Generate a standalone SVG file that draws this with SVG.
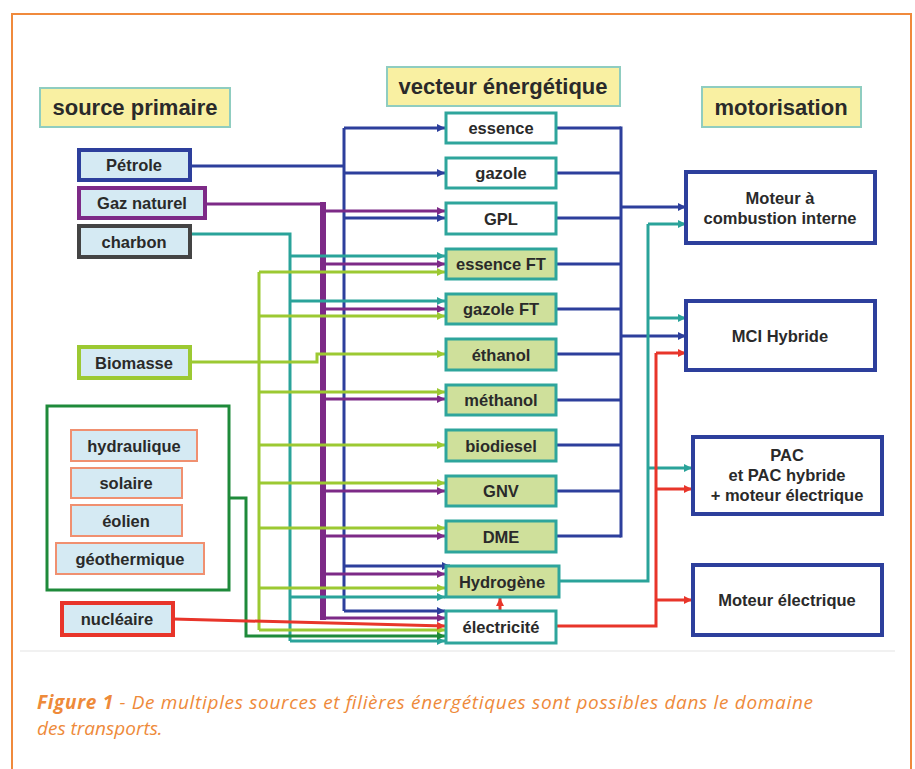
<svg xmlns="http://www.w3.org/2000/svg" width="915" height="769" viewBox="0 0 915 769">
<style>
text{font-family:"Liberation Sans",Arial,sans-serif;font-weight:bold;fill:#2a2a2a;text-anchor:middle}
.hdr rect{fill:#f9f0a2;stroke:#8fcdc0;stroke-width:2}
.hdr text{font-size:22px}
.src rect{fill:#d5eaf3;stroke-width:4}
.src text,.ren text,.vec text,.mot text{font-size:16.5px}
.ren rect{fill:#d5eaf3;stroke:#f09070;stroke-width:2}
.vec rect{stroke:#2ea59c;stroke-width:3}
.w{fill:#fff}
.g{fill:#cfe09b}
.mot rect{fill:#fff;stroke:#2d3f9c;stroke-width:4}
.c path{fill:none;stroke-width:3}
.bl{stroke:#2d3f9c}
.pu{stroke:#7d2a87}
.te{stroke:#2aa39a}
.lg{stroke:#9cc932}
.dg{stroke:#1e8a3a}
.rd{stroke:#e8352a}
.caption{font-family:"Open Sans","Liberation Sans",sans-serif;font-style:italic;font-weight:normal;font-size:19px;fill:#ee8a3a;text-anchor:start}
</style>
<defs>
<marker id="ab" viewBox="0 0 10 10" refX="10" refY="5" markerWidth="9" markerHeight="8" markerUnits="userSpaceOnUse" orient="auto"><path d="M0,0L10,5L0,10z" fill="#2d3f9c"/></marker>
<marker id="ap" viewBox="0 0 10 10" refX="10" refY="5" markerWidth="9" markerHeight="8" markerUnits="userSpaceOnUse" orient="auto"><path d="M0,0L10,5L0,10z" fill="#7d2a87"/></marker>
<marker id="at" viewBox="0 0 10 10" refX="10" refY="5" markerWidth="9" markerHeight="8" markerUnits="userSpaceOnUse" orient="auto"><path d="M0,0L10,5L0,10z" fill="#2aa39a"/></marker>
<marker id="al" viewBox="0 0 10 10" refX="10" refY="5" markerWidth="9" markerHeight="8" markerUnits="userSpaceOnUse" orient="auto"><path d="M0,0L10,5L0,10z" fill="#9cc932"/></marker>
<marker id="ad" viewBox="0 0 10 10" refX="10" refY="5" markerWidth="9" markerHeight="8" markerUnits="userSpaceOnUse" orient="auto"><path d="M0,0L10,5L0,10z" fill="#1e8a3a"/></marker>
<marker id="ar" viewBox="0 0 10 10" refX="10" refY="5" markerWidth="9" markerHeight="8" markerUnits="userSpaceOnUse" orient="auto"><path d="M0,0L10,5L0,10z" fill="#e8352a"/></marker>
</defs>
<rect width="915" height="769" fill="#fff"/>
<path d="M12,769V14H911V769" fill="none" stroke="#f08a3c" stroke-width="2"/>
<line x1="20" y1="651" x2="895" y2="651" stroke="#ececec" stroke-width="1.5"/>

<g class="c" id="connectors">
<path class="bl" d="M190,166H344"/>
<path class="bl" d="M344,128V611"/>
<path class="bl" d="M344,128H445" marker-end="url(#ab)"/>
<path class="bl" d="M344,173H445" marker-end="url(#ab)"/>
<path class="bl" d="M344,218H445" marker-end="url(#ab)"/>
<path class="bl" d="M344,566H450" marker-end="url(#ab)"/>
<path class="bl" d="M344,611H445" marker-end="url(#ab)"/>
<path class="pu" d="M205,204H323"/>
<path class="pu" d="M323,202V620" style="stroke-width:6"/>
<path class="pu" d="M323,211H445" marker-end="url(#ap)"/>
<path class="pu" d="M323,264H445" marker-end="url(#ap)"/>
<path class="pu" d="M323,309H445" marker-end="url(#ap)"/>
<path class="pu" d="M323,399H445" marker-end="url(#ap)"/>
<path class="pu" d="M323,491H445" marker-end="url(#ap)"/>
<path class="pu" d="M323,536H445" marker-end="url(#ap)"/>
<path class="pu" d="M323,574H445" marker-end="url(#ap)"/>
<path class="pu" d="M323,618H445" marker-end="url(#ap)"/>
<path class="te" d="M190,234H290V641"/>
<path class="te" d="M290,256H445" marker-end="url(#at)"/>
<path class="te" d="M290,301H445" marker-end="url(#at)"/>
<path class="te" d="M290,597H445" marker-end="url(#at)"/>
<path class="te" d="M290,641H445" marker-end="url(#at)"/>
<path class="lg" d="M259,272V630"/>
<path class="lg" d="M259,272H445" marker-end="url(#al)"/>
<path class="lg" d="M259,316H445" marker-end="url(#al)"/>
<path class="lg" d="M190,362H317V354H445" marker-end="url(#al)"/>
<path class="lg" d="M259,392H445" marker-end="url(#al)"/>
<path class="lg" d="M259,445H445" marker-end="url(#al)"/>
<path class="lg" d="M259,483H445" marker-end="url(#al)"/>
<path class="lg" d="M259,528H445" marker-end="url(#al)"/>
<path class="lg" d="M259,588H445" marker-end="url(#al)"/>
<path class="lg" d="M259,630H445" marker-end="url(#al)"/>
<path class="dg" d="M229,498H246V636H445" marker-end="url(#ad)"/>
<path class="rd" d="M173,619L445,626" marker-end="url(#ar)"/>
<path class="rd" d="M500,611V598" marker-end="url(#ar)"/>
<path class="bl" d="M556,128H621M556,173H621M556,218H621M556,264H621M556,309H621M556,354H621M556,400H621M556,445H621M556,491H621M556,536H621"/>
<path class="bl" d="M621,126.5V537.5"/>
<path class="bl" d="M621,207H686" marker-end="url(#ab)"/>
<path class="bl" d="M621,336H686" marker-end="url(#ab)"/>
<path class="te" d="M559,581H648V224"/>
<path class="te" d="M648,224H686" marker-end="url(#at)"/>
<path class="te" d="M648,318H686" marker-end="url(#at)"/>
<path class="te" d="M648,468H692" marker-end="url(#at)"/>
<path class="rd" d="M556,626H656V353"/>
<path class="rd" d="M656,353H686" marker-end="url(#ar)"/>
<path class="rd" d="M656,489H692" marker-end="url(#ar)"/>
<path class="rd" d="M656,600H692" marker-end="url(#ar)"/>
</g>

<g id="h-source" class="hdr"><rect x="40" y="88" width="190" height="39"/><text x="135" y="115">source primaire</text></g>
<g id="h-vecteur" class="hdr"><rect x="387" y="67" width="233" height="39"/><text x="503" y="94">vecteur énergétique</text></g>
<g id="h-motor" class="hdr"><rect x="702" y="87" width="159" height="40"/><text x="781" y="115">motorisation</text></g>

<g id="petrole" class="src"><rect x="79" y="150" width="111" height="30" stroke="#2d3f9c"/><text x="134" y="171">Pétrole</text></g>
<g id="gaz" class="src"><rect x="79" y="188" width="126" height="30" stroke="#7d2a87"/><text x="142" y="209">Gaz naturel</text></g>
<g id="charbon" class="src"><rect x="79" y="226" width="111" height="31" stroke="#444"/><text x="134" y="248">charbon</text></g>
<g id="biomasse" class="src"><rect x="79" y="347" width="111" height="31" stroke="#9cc932"/><text x="134" y="369">Biomasse</text></g>
<g id="renouvelables">
<rect x="47" y="406" width="182" height="184" fill="none" stroke="#1e8a3a" stroke-width="3"/>
<g id="hydraulique" class="ren"><rect x="71" y="430" width="126" height="31"/><text x="134" y="452">hydraulique</text></g>
<g id="solaire" class="ren"><rect x="71" y="468" width="111" height="30"/><text x="126" y="489">solaire</text></g>
<g id="eolien" class="ren"><rect x="71" y="505" width="111" height="31"/><text x="126" y="527">éolien</text></g>
<g id="geothermique" class="ren"><rect x="56" y="543" width="148" height="31"/><text x="130" y="565">géothermique</text></g>
</g>
<g id="nucleaire" class="src"><rect x="62" y="603" width="111" height="32" stroke="#e8352a"/><text x="117" y="625">nucléaire</text></g>

<g id="essence" class="vec"><rect class="w" x="446" y="113" width="110" height="30"/><text x="501" y="134">essence</text></g>
<g id="gazole" class="vec"><rect class="w" x="446" y="158" width="110" height="30"/><text x="501" y="179">gazole</text></g>
<g id="gpl" class="vec"><rect class="w" x="446" y="203" width="110" height="31"/><text x="501" y="225">GPL</text></g>
<g id="essenceft" class="vec"><rect class="g" x="446" y="249" width="110" height="30"/><text x="501" y="270">essence FT</text></g>
<g id="gazoleft" class="vec"><rect class="g" x="446" y="294" width="110" height="30"/><text x="501" y="315">gazole FT</text></g>
<g id="ethanol" class="vec"><rect class="g" x="446" y="339" width="110" height="31"/><text x="501" y="361">éthanol</text></g>
<g id="methanol" class="vec"><rect class="g" x="446" y="385" width="110" height="30"/><text x="501" y="406">méthanol</text></g>
<g id="biodiesel" class="vec"><rect class="g" x="446" y="430" width="110" height="31"/><text x="501" y="452">biodiesel</text></g>
<g id="gnv" class="vec"><rect class="g" x="446" y="476" width="110" height="30"/><text x="501" y="497">GNV</text></g>
<g id="dme" class="vec"><rect class="g" x="446" y="521" width="110" height="31"/><text x="501" y="543">DME</text></g>
<g id="hydrogene" class="vec"><rect class="g" x="446" y="566" width="113" height="31"/><text x="502" y="588">Hydrogène</text></g>
<g id="electricite" class="vec"><rect class="w" x="446" y="611" width="110" height="32"/><text x="501" y="633">électricité</text></g>

<g id="mci" class="mot"><rect x="686" y="172" width="189" height="71"/><text x="780" y="204">Moteur à</text><text x="780" y="224">combustion interne</text></g>
<g id="mcihybride" class="mot"><rect x="686" y="301" width="189" height="69"/><text x="780" y="342">MCI Hybride</text></g>
<g id="pac" class="mot"><rect x="693" y="437" width="189" height="77"/><text x="787" y="461">PAC</text><text x="787" y="481">et PAC hybride</text><text x="787" y="501">+ moteur électrique</text></g>
<g id="moteurelec" class="mot"><rect x="693" y="565" width="189" height="70"/><text x="787" y="606">Moteur électrique</text></g>

<text class="caption" x="37" y="709" textLength="776" lengthAdjust="spacing"><tspan font-weight="bold">Figure 1</tspan> - De multiples sources et filières énergétiques sont possibles dans le domaine</text>
<text class="caption" x="37" y="735">des transports.</text>
</svg>
